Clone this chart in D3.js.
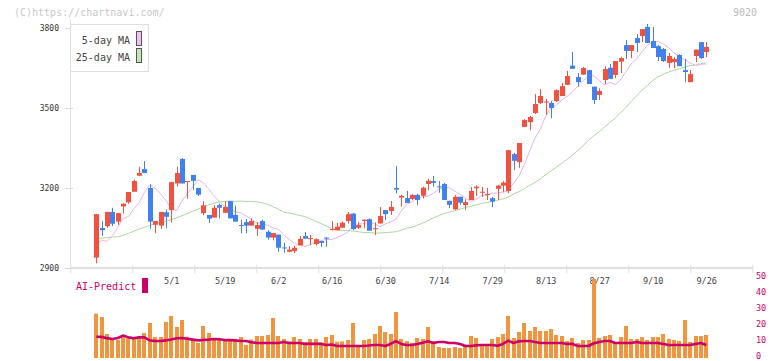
<!DOCTYPE html>
<html><head><meta charset="utf-8">
<script src="https://cdn.jsdelivr.net/npm/d3@7"></script>
<style>
body{margin:0;background:#fff}
svg{display:block}
text{font-family:"DejaVu Sans Mono","Liberation Mono",monospace}
</style>
</head><body>
<svg id="c" width="772" height="361"></svg>
<script>
// ---- data (trading-day index 0..114, 4/10 .. 9/26) ----
const opens=[2939,3050,3057,3110,3074,3131,3146,3186,3246,3271,
3200,3062,3059,3109,3117,3217,3309,3224,3249,3200,
3106,3099,3089,3136,3107,3151,3099,3061,3072,3059,
3047,3076,3036,3014,3025,2977,2961,2964,2985,3020,
3010,2990,3001,3014,3044,3041,3051,3076,3104,3051,
3076,3083,3047,3067,3117,3114,3200,3164,3162,3159,
3174,3171,3215,3226,3206,3215,3152,3120,3167,3136,
3155,3199,3185,3175,3162,3197,3209,3189,3327,3297,
3429,3447,3481,3519,3522,3519,3526,3545,3587,3659,
3616,3625,3642,3580,3549,3605,3651,3624,3674,3736,
3714,3762,3770,3804,3751,3732,3721,3669,3672,3699,
3642,3597,3695,3747,3710];
const highs=[3102,3076,3111,3126,3106,3143,3185,3231,3280,3301,
3214,3076,3110,3120,3222,3280,3312,3226,3249,3200,
3151,3099,3136,3142,3151,3151,3134,3081,3084,3086,
3071,3081,3041,3031,3025,2995,2982,2984,3020,3035,
3024,3011,3001,3016,3076,3070,3075,3110,3106,3072,
3081,3086,3071,3129,3117,3151,3282,3174,3189,3176,
3179,3205,3235,3245,3226,3219,3152,3174,3167,3158,
3204,3210,3204,3200,3166,3212,3226,3342,3331,3369,
3459,3470,3552,3571,3534,3526,3570,3594,3639,3710,
3631,3654,3642,3580,3574,3657,3665,3676,3692,3755,
3736,3777,3796,3815,3804,3736,3725,3706,3691,3702,
3684,3642,3719,3747,3747];
const lows=[2918,3020,3050,3057,3062,3104,3141,3186,3246,3256,
3047,3030,3047,3049,3070,3206,3217,3160,3192,3170,
3098,3069,3089,3086,3107,3086,3074,3030,3030,3059,
3021,3044,3006,3004,2961,2957,2959,2956,2985,3010,
2986,2984,2979,2980,3041,3041,3051,3067,3042,3046,
3049,3040,3024,3067,3080,3099,3180,3130,3144,3155,
3136,3161,3192,3205,3182,3155,3125,3118,3137,3118,
3155,3170,3167,3155,3128,3155,3184,3180,3267,3276,
3429,3417,3477,3515,3474,3462,3522,3545,3587,3647,
3580,3625,3590,3515,3530,3590,3609,3612,3631,3684,
3687,3710,3747,3744,3725,3676,3672,3650,3650,3657,
3597,3597,3672,3684,3691];
const closes=[3102,3042,3110,3066,3106,3141,3185,3226,3256,3256,
3074,3076,3110,3092,3222,3256,3217,3226,3227,3175,
3135,3085,3126,3126,3129,3086,3074,3058,3059,3076,
3061,3044,3014,3031,2976,2976,2969,2976,3009,3010,
3012,3008,2994,3012,3046,3055,3070,3102,3046,3061,
3081,3040,3049,3095,3102,3129,3194,3171,3144,3174,
3155,3201,3227,3219,3204,3155,3137,3167,3145,3147,
3189,3205,3186,3177,3149,3209,3220,3342,3302,3369,
3455,3466,3515,3545,3524,3500,3567,3582,3620,3647,
3597,3650,3590,3530,3564,3646,3609,3676,3687,3714,
3736,3744,3796,3744,3725,3691,3676,3695,3684,3657,
3635,3627,3719,3687,3729];
const ma5=[2986,3005,3000,3022,3052,3085,3093,3122,3145,3183,
3213,3199,3178,3154,3122,3115,3151,3179,3203,3230,
3220,3196,3170,3150,3129,3120,3110,3108,3095,3081,
3071,3066,3060,3051,3045,3025,3008,2993,2986,2981,
2988,2995,3003,3007,3007,3014,3023,3035,3057,3064,
3067,3072,3066,3055,3065,3073,3083,3114,3138,3148,
3162,3168,3169,3180,3195,3201,3201,3188,3176,3162,
3150,3157,3171,3174,3181,3181,3185,3188,3219,3244,
3288,3338,3387,3421,3470,3501,3510,3530,3544,3559,
3583,3603,3619,3621,3603,3586,3596,3588,3605,3636,
3666,3684,3711,3735,3747,3749,3740,3726,3706,3694,
3681,3669,3660,3664,3665];
const ma25=[3011,3012,3014,3016,3017,3022,3030,3038,3046,3052,
3060,3066,3070,3075,3082,3088,3096,3104,3113,3120,
3130,3137,3143,3147,3150,3151,3150,3151,3149,3149,
3148,3145,3139,3130,3121,3110,3106,3102,3097,3093,
3085,3075,3067,3057,3049,3044,3041,3040,3039,3036,
3033,3033,3031,3031,3033,3034,3036,3042,3049,3053,
3061,3068,3077,3088,3096,3104,3109,3115,3121,3127,
3131,3136,3142,3145,3150,3154,3159,3166,3178,3186,
3197,3210,3221,3234,3250,3264,3278,3293,3307,3323,
3341,3359,3379,3396,3411,3428,3446,3462,3482,3502,
3525,3546,3567,3585,3603,3617,3627,3635,3642,3648,
3653,3659,3661,3666,3669];
const volume=[27.7,25.6,15,12.3,11.3,13.75,12.3,12.1,13.3,15.6,
21.9,13.1,13.1,22.5,26.25,19.4,23.75,13.3,11.7,9.4,
20,15.6,12.3,11.9,11.9,11.9,11.9,13.1,8.1,11.5,
13.75,13.75,14.4,25,13.75,11.9,10.4,13.1,11.9,10,
11.9,11.9,9.8,13.1,14.4,10.2,10.4,11.25,21.9,7.5,
11.25,11.9,15,20,16.25,15,28.75,11.9,10.6,9.4,
12.5,11.9,19.4,10.6,6.9,6.25,6.25,6.9,6.25,8.1,
13.75,12.5,8.1,8.1,11.9,13.1,15,26.25,12.5,16.25,
21.9,16.9,19.4,16.9,16.9,18.1,14.4,13.75,10.6,12.5,
9.4,11.25,11.25,49.4,12.5,13.75,14.4,9.4,13.1,20,
11.9,11.9,13.1,11.25,13.1,13.1,15,11.9,11.25,10.6,
23.75,10,13.75,13.75,14.4];
const aiPredict=[13.3,13.2,12.4,11.9,12.5,14.0,12.9,12.3,12.9,12.9,
11.0,10.6,10.6,11.0,11.6,12.3,12.5,12.0,11.5,11.0,
11.3,11.5,11.9,11.7,11.2,11.2,11.0,10.6,10.6,9.8,
9.4,9.4,9.4,9.4,9.4,10.0,9.4,9.4,9.4,8.8,
8.8,8.8,8.8,8.1,8.4,7.5,7.5,7.5,7.5,7.5,
7.5,7.8,8.1,8.1,7.5,8.8,10.6,8.8,8.1,8.1,
8.8,9.6,10.4,9.4,10.0,10.0,9.4,9.4,8.8,7.5,
7.5,7.9,8.1,8.1,8.1,7.7,8.8,10.8,9.4,10.4,
10.6,10.6,10.0,9.4,9.4,9.4,9.4,9.4,8.8,8.8,
7.5,7.5,7.5,9.2,10.0,10.6,10.6,9.4,9.4,9.4,
9.4,10.0,9.4,9.4,9.4,9.4,8.8,8.1,8.1,8.1,
8.1,8.1,8.8,9.4,8.1];
const dateLabels=["5/1","5/19","6/2","6/16","6/30","7/14","7/29","8/13","8/27","9/10","9/26"];
const dateLabelIdx=[14,24,34,44,54,64,74,84,94,104,114];
const priceTicks=[2900,3200,3500,3800];
const volTicks=[0,10,20,30,40,50];
const legendLabels=["5-day MA","25-day MA"];

// ---- drawing ----
const svg=d3.select("#c");
const n=closes.length;
const idx=d3.range(n);
const x=d3.scaleLinear().domain([0,n-1]).range([96.3,706.2]);
const y=d3.scaleLinear().domain([2900,3800]).range([268,28]);
const vy=d3.scaleLinear().domain([0,50]).range([358,278]);
const RED="#f2513f", BLUE="#4080f0";

// header texts
svg.append("text").attr("x",14).attr("y",16).attr("font-size",10).attr("fill","#c8c8c8").text("(C)https://chartnavi.com/");
svg.append("text").attr("x",757).attr("y",16).attr("text-anchor","end").attr("font-size",10).attr("fill","#bbb").text("9020");

// left axis line and bottom line
svg.append("line").attr("x1",70.5).attr("x2",70.5).attr("y1",20).attr("y2",269).attr("stroke","#e2e2e2");
svg.append("line").attr("x1",70).attr("x2",753).attr("y1",268).attr("y2",268).attr("stroke","#e0e0e0").attr("stroke-width",2);

// regular small tick marks along the time axis
const tickScale=d3.scaleLinear().domain([0,11]).range([70.3,752.3]);
const gt=svg.append("g").attr("transform","translate(0,265)")
  .call(d3.axisBottom(tickScale).tickValues(d3.range(12)).tickSize(8).tickFormat(""));
gt.select(".domain").remove();
gt.selectAll(".tick line").attr("stroke","#e0e0e0");

// price axis
const gy=svg.append("g").attr("transform","translate(73,0)")
  .call(d3.axisLeft(y).tickValues(priceTicks).tickSize(8).tickPadding(6).tickFormat(d3.format("d")));
gy.select(".domain").remove();
gy.selectAll(".tick line").attr("stroke","#d8d8d8");
gy.selectAll(".tick text").attr("font-size",8).attr("fill","#333").style("font-family","DejaVu Sans Mono, monospace");

// date labels
const gx=svg.append("g").attr("transform","translate(0,268)")
  .call(d3.axisBottom(x).tickValues(dateLabelIdx).tickSize(0).tickPadding(10).tickFormat((d,i)=>dateLabels[i]));
gx.select(".domain").remove();
gx.selectAll(".tick text").attr("font-size",8.5).attr("fill","#444").style("font-family","DejaVu Sans Mono, monospace");

// volume axis (right)
const gv=svg.append("g").attr("transform","translate(756,-2)")
  .call(d3.axisRight(vy).tickValues(volTicks).tickSize(0).tickPadding(0));
gv.select(".domain").remove();
gv.selectAll(".tick text").attr("font-size",8.5).attr("fill","#cc0066").style("font-family","DejaVu Sans Mono, monospace");

// moving averages
const line=d3.line().x((d,i)=>x(i)).y(d=>y(d));
svg.append("path").attr("d",line(ma25)).attr("fill","none").attr("stroke","#acd89e").attr("stroke-width",1);
svg.append("path").attr("d",line(ma5)).attr("fill","none").attr("stroke","#e8b4ec").attr("stroke-width",1);

// candles
const cg=svg.append("g");
const cw=5;
idx.forEach(i=>{
  const up=closes[i]>=opens[i];
  const col=up?RED:BLUE;
  const cx=Math.round(x(i));
  cg.append("line").attr("x1",cx+0.5).attr("x2",cx+0.5)
    .attr("y1",y(highs[i])).attr("y2",y(lows[i])).attr("stroke",col).attr("stroke-width",1);
  const top=y(Math.max(opens[i],closes[i])), bot=y(Math.min(opens[i],closes[i]));
  cg.append("rect").attr("x",cx-2).attr("width",cw)
    .attr("y",top).attr("height",Math.max(1,bot-top)).attr("fill",col);
});

// legend
svg.append("rect").attr("x",70.5).attr("y",24.5).attr("width",78).attr("height",47)
  .attr("fill","#fff").attr("stroke","#e0e0e0");
const swCol=["#f0c0f0","#c4e4b4"];
legendLabels.forEach((t,k)=>{
  svg.append("text").attr("x",130).attr("y",44+k*16.5).attr("text-anchor","end")
    .attr("font-size",10).attr("fill","#444").text(t);
  svg.append("rect").attr("x",136.5).attr("y",31.5+k*17).attr("width",5).attr("height",14)
    .attr("fill",swCol[k]).attr("stroke","#555");
});

// volume bars
svg.append("g").selectAll("rect").data(volume).join("rect")
  .attr("x",(d,i)=>Math.round(x(i))-2).attr("width",4)
  .attr("y",d=>vy(d)).attr("height",d=>vy(0)-vy(d)).attr("fill","#f0953e");

// AI-Predict line
svg.append("path").attr("d",d3.line().x((d,i)=>x(i)).y(d=>vy(d))(aiPredict))
  .attr("fill","none").attr("stroke","#cc0066").attr("stroke-width",2.6).attr("stroke-linejoin","round");

// AI-Predict legend
svg.append("text").attr("x",76).attr("y",290).attr("font-size",10).attr("fill","#cc0066").text("AI-Predict");
svg.append("rect").attr("x",142).attr("y",278).attr("width",6).attr("height",15).attr("fill","#cc0066");
</script>
</body></html>
